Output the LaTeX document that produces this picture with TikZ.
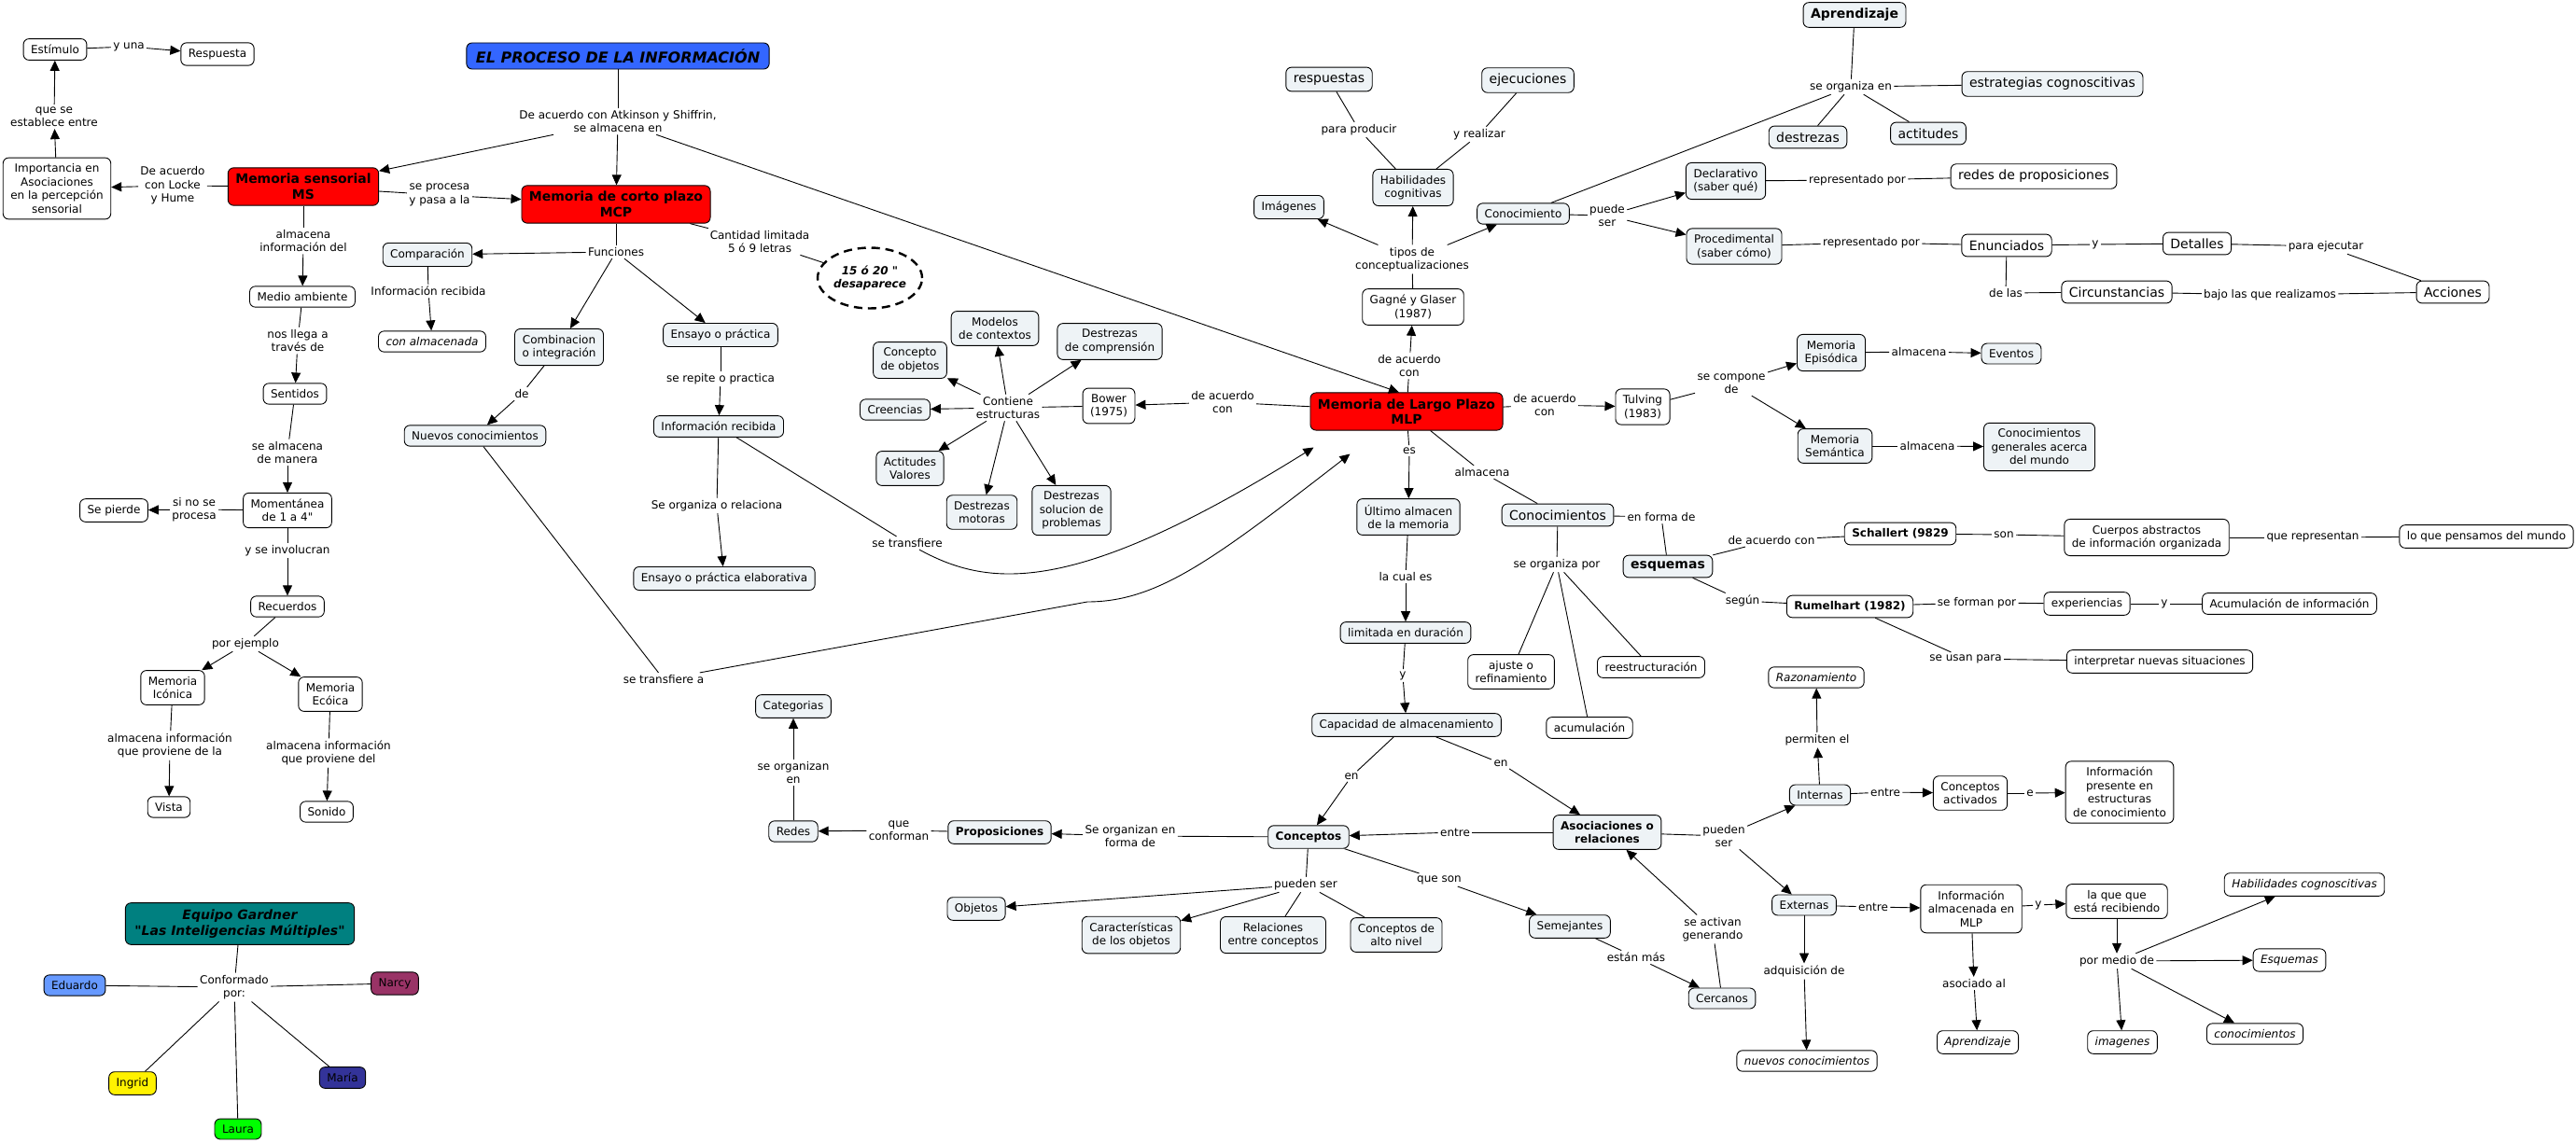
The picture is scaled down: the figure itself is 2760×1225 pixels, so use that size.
\documentclass[tikz,border=0pt]{standalone}
\usepackage{fontspec}
\setmainfont{DejaVu Sans}[Ligatures=TeXOff]
\usetikzlibrary{arrows.meta,shapes.geometric}
\definecolor{pale}{RGB}{238,243,246}
\definecolor{titleblue}{RGB}{51,102,255}
\definecolor{tealbox}{RGB}{0,128,128}
\definecolor{edu}{RGB}{102,153,255}
\definecolor{narcyc}{RGB}{153,51,102}
\definecolor{mariac}{RGB}{51,51,153}
\begin{document}
\begin{tikzpicture}[x=1pt,y=-1pt,line width=0.9pt,
        con/.style={draw,rounded corners=6pt,fill=white,align=center,inner xsep=8pt,inner ysep=6.5pt,font=\fontsize{12}{14.5}\selectfont},
        pc/.style={con,fill=pale},
        big/.style={font=\fontsize{14}{16.5}\selectfont},
        bb/.style={font=\fontsize{14}{16.5}\selectfont\bfseries},
        bd/.style={font=\fontsize{12}{14.5}\selectfont\bfseries},
        it/.style={font=\fontsize{12}{14.5}\selectfont\itshape},
        lab/.style={align=center,inner sep=2pt,font=\fontsize{12}{14.5}\selectfont},
        arr/.style={-{Triangle[length=11pt,width=10pt]}}]
                \fill[white] (0,0) rectangle (2760,1225);
                \useasboundingbox (0,0) rectangle (2760,1225);
                \node[con] (estimulo) at (59,53) {Estímulo};
                \node[con] (respuesta) at (233,58) {Respuesta};
                \node[con] (importancia) at (61,202) {Importancia en\\Asociaciones\\en la percepción\\sensorial};
                \node[con,fill=red,bb] (ms) at (325,200) {Memoria sensorial\\MS};
                \node[con,fill=titleblue,font=\fontsize{16}{19}\selectfont\bfseries\itshape,inner xsep=10pt] (titulo) at (662,60) {EL PROCESO DE LA INFORMACIÓN};
                \node[con,fill=red,bb] (mcp) at (660,219) {Memoria de corto plazo\\MCP};
                \node[pc] (compar) at (458,273) {Comparación};
                \node[con,it] (conalm) at (463,366) {con almacenada};
                \node[pc] (combin) at (599,372) {Combinacion\\o integración};
                \node[pc] (nuevos) at (509,467) {Nuevos conocimientos};
                \node[con] (medio) at (324,318) {Medio ambiente};
                \node[con] (sentidos) at (316,422) {Sentidos};
                \node[con] (moment) at (308,547) {Momentánea\\de 1 a 4"};
                \node[con] (pierde) at (122,547) {Se pierde};
                \node[con] (recuerdos) at (308,650) {Recuerdos};
                \node[con] (iconica) at (185,737) {Memoria\\Icónica};
                \node[con] (ecoica) at (354,744) {Memoria\\Ecóica};
                \node[con] (vista) at (181,865) {Vista};
                \node[con] (sonido) at (350,870) {Sonido};
                \node[con,fill=tealbox,font=\fontsize{14}{17}\selectfont\bfseries\itshape,inner xsep=10pt,inner ysep=7pt] (gardner) at (257,990) {Equipo Gardner\\"Las Inteligencias Múltiples"};
                \node[con,fill=edu] (eduardo) at (80,1056) {Eduardo};
                \node[con,fill=narcyc] (narcy) at (423,1054) {Narcy};
                \node[con,fill=yellow] (ingrid) at (142,1161) {Ingrid};
                \node[con,fill=mariac] (maria) at (367,1155) {María};
                \node[con,fill=green] (laura) at (255,1210) {Laura};
                \node[draw,ellipse,dash pattern=on 9pt off 6pt,line width=2.4pt,minimum width=112pt,minimum height=65pt,inner sep=0pt,align=center,font=\fontsize{12}{14.5}\selectfont\bfseries\itshape] (elipse) at (932,298) {15 ó 20 "\\desaparece};
                \node[pc] (ensayo) at (772,359) {Ensayo o práctica};
                \node[pc] (inforec) at (770,457) {Información recibida};
                \node[pc] (elabor) at (776,620) {Ensayo o práctica elaborativa};
                \node[pc] (modelos) at (1066,352) {Modelos\\de contextos};
                \node[pc] (destcomp) at (1189,366) {Destrezas\\de comprensión};
                \node[pc] (concobj) at (975,386) {Concepto\\de objetos};
                \node[pc] (creencias) at (959,439) {Creencias};
                \node[pc] (actval) at (975,502) {Actitudes\\Valores};
                \node[pc] (destmot) at (1052,549) {Destrezas\\motoras};
                \node[pc] (destsol) at (1148,547) {Destrezas\\solucion de\\problemas};
                \node[con] (bower) at (1188,435) {Bower\\(1975)};
                \node[pc] (categorias) at (850,757) {Categorias};
                \node[pc] (redes) at (850,891) {Redes};
                \node[pc,bd] (propos) at (1071,892) {Proposiciones};
                \node[pc,bd] (conceptos) at (1402,897) {Conceptos};
                \node[pc] (objetos) at (1046,974) {Objetos};
                \node[pc] (caract) at (1212,1002) {Características\\de los objetos};
                \node[pc] (relac) at (1364,1002) {Relaciones\\entre conceptos};
                \node[pc] (altonivel) at (1496,1002) {Conceptos de\\alto nivel};
                \node[pc,bb] (aprend) at (1987,16) {Aprendizaje};
                \node[pc,big] (respuestas) at (1424,85) {respuestas};
                \node[pc,big] (ejecuc) at (1637,86) {ejecuciones};
                \node[pc] (habil) at (1514,201) {Habilidades\\cognitivas};
                \node[pc] (imagenes) at (1381,222) {Imágenes};
                \node[con] (gagne) at (1514,329) {Gagné y Glaser\\(1987)};
                \node[con,fill=red,bb] (mlp) at (1507,441) {Memoria de Largo Plazo\\MLP};
                \node[pc] (conocim) at (1632,229) {Conocimiento};
                \node[pc] (declar) at (1849,194) {Declarativo\\(saber qué)};
                \node[pc] (proced) at (1858,264) {Procedimental\\(saber cómo)};
                \node[pc,big] (destrezas) at (1937,147) {destrezas};
                \node[pc,big] (actitudes) at (2066,143) {actitudes};
                \node[pc,big] (estrat) at (2199,90) {estrategias cognoscitivas};
                \node[con,big] (redesprop) at (2179,189) {redes de proposiciones};
                \node[con,big] (enunc) at (2150,263) {Enunciados};
                \node[con,big] (detalles) at (2354,261) {Detalles};
                \node[con,big] (circuns) at (2268,313) {Circunstancias};
                \node[con,big] (acciones) at (2628,313) {Acciones};
                \node[con] (tulving) at (1760,436) {Tulving\\(1983)};
                \node[pc] (episod) at (1962,378) {Memoria\\Episódica};
                \node[pc] (semant) at (1966,478) {Memoria\\Semántica};
                \node[pc] (eventos) at (2155,379) {Eventos};
                \node[pc] (congen) at (2185,479) {Conocimientos\\generales acerca\\del mundo};
                \node[pc] (ultimo) at (1509,554) {Último almacen\\de la memoria};
                \node[pc,big] (conocims) at (1669,552) {Conocimientos};
                \node[pc,bb] (esquemas) at (1787,607) {esquemas};
                \node[con,bd] (schallert) at (2036,572) {Schallert (9829};
                \node[con] (cuerpos) at (2300,576) {Cuerpos abstractos\\de información organizada};
                \node[con] (pensamos) at (2664,575) {lo que pensamos del mundo};
                \node[pc] (limitada) at (1506,678) {limitada en duración};
                \node[pc] (capacidad) at (1507,777) {Capacidad de almacenamiento};
                \node[con] (ajuste) at (1619,720) {ajuste o\\refinamiento};
                \node[con] (reestr) at (1769,715) {reestructuración};
                \node[con] (acumul) at (1703,780) {acumulación};
                \node[con,bd] (rumel) at (1982,650) {Rumelhart (1982)};
                \node[con] (experien) at (2236,647) {experiencias};
                \node[con] (acuminf) at (2453,647) {Acumulación de información};
                \node[con] (interpret) at (2314,709) {interpretar nuevas situaciones};
                \node[pc,bd] (asoc) at (1722,892) {Asociaciones o\\relaciones};
                \node[pc] (semej) at (1682,993) {Semejantes};
                \node[pc] (cercanos) at (1845,1070) {Cercanos};
                \node[pc] (internas) at (1950,852) {Internas};
                \node[con,it] (razon) at (1946,726) {Razonamiento};
                \node[con] (concact) at (2111,850) {Conceptos\\activados};
                \node[con] (infopres) at (2271,849) {Información\\presente en\\estructuras\\de conocimiento};
                \node[pc] (externas) at (1933,970) {Externas};
                \node[con] (infoalm) at (2112,974) {Información\\almacenada en\\MLP};
                \node[con] (querecib) at (2268,966) {la que que\\está recibiendo};
                \node[con,it] (habcog) at (2469,948) {Habilidades cognoscitivas};
                \node[con,it] (esqit) at (2453,1029) {Esquemas};
                \node[con,it] (conocit) at (2416,1108) {conocimientos};
                \node[con,it] (imagit) at (2274,1117) {imagenes};
                \node[con,it] (aprendit) at (2119,1117) {Aprendizaje};
                \node[con,it] (nuevosit) at (1936,1137) {nuevos conocimientos};
                \node[lab] (yuna) at (138,50) {y una};
                \node[lab] (qse) at (58,125) {que se\\establece entre};
                \node[lab] (locke) at (185,199) {De acuerdo\\con Locke\\y Hume};
                \node[lab] (atk) at (662,130) {De acuerdo con Atkinson y Shiffrin,\\se almacena en};
                \node[lab] (procesa) at (471,209) {se procesa\\y pasa a la};
                \node[lab] (almdel) at (325,258) {almacena\\información del};
                \node[lab] (llega) at (319,365) {nos llega a\\través de};
                \node[lab] (almman) at (308,485) {se almacena\\de manera};
                \node[lab] (sino) at (208,546) {si no se\\procesa};
                \node[lab] (invol) at (308,590) {y se involucran};
                \node[lab] (ejemplo) at (263,690) {por ejemplo};
                \node[lab] (alm1) at (182,799) {almacena información\\que proviene de la};
                \node[lab] (alm2) at (352,807) {almacena información\\que proviene del};
                \node[lab] (conf) at (251,1058) {Conformado\\por:};
                \node[lab] (func) at (660,270) {Funciones};
                \node[lab] (cant) at (814,259) {Cantidad limitada\\5 ó 9 letras};
                \node[lab] (inforl) at (459,312) {Información recibida};
                \node[lab] (dede) at (559,422) {de};
                \node[lab] (transa) at (711,728) {se transfiere a};
                \node[lab] (repite) at (772,406) {se repite o practica};
                \node[lab] (organiza) at (768,542) {Se organiza o relaciona};
                \node[lab] (transf) at (972,582) {se transfiere};
                \node[lab] (bowerl) at (1310,431) {de acuerdo\\con};
                \node[lab] (contiene) at (1080,437) {Contiene\\estructuras};
                \node[lab] (gagnel) at (1510,392) {de acuerdo\\con};
                \node[lab] (tipos) at (1513,278) {tipos de\\conceptualizaciones};
                \node[lab] (produc) at (1456,139) {para producir};
                \node[lab] (realiz) at (1585,144) {y realizar};
                \node[lab] (organizaen) at (1983,93) {se organiza en};
                \node[lab] (puede) at (1722,231) {puede\\ser};
                \node[lab] (rep1) at (1990,193) {representado por};
                \node[lab] (rep2) at (2005,260) {representado por};
                \node[lab] (yenun) at (2245,262) {y};
                \node[lab] (ejec) at (2492,264) {para ejecutar};
                \node[lab] (delas) at (2149,314) {de las};
                \node[lab] (bajo) at (2432,316) {bajo las que realizamos};
                \node[lab] (tulvl) at (1655,434) {de acuerdo\\con};
                \node[lab] (compone) at (1855,411) {se compone\\de};
                \node[lab] (almep) at (2056,377) {almacena};
                \node[lab] (almsem) at (2065,478) {almacena};
                \node[lab] (esl) at (1510,483) {es};
                \node[lab] (cuales) at (1506,618) {la cual es};
                \node[lab] (yl) at (1503,724) {y};
                \node[lab] (en1) at (1448,832) {en};
                \node[lab] (en2) at (1608,818) {en};
                \node[lab] (almac) at (1588,506) {almacena};
                \node[lab] (orgpor) at (1668,605) {se organiza por};
                \node[lab] (enforma) at (1780,554) {en forma de};
                \node[lab] (acuerdo) at (1898,579) {de acuerdo con};
                \node[lab] (son) at (2147,573) {son};
                \node[lab] (represent) at (2478,576) {que representan};
                \node[lab] (segun) at (1867,644) {según};
                \node[lab] (forman) at (2118,646) {se forman por};
                \node[lab] (yexp) at (2319,647) {y};
                \node[lab] (usan) at (2106,706) {se usan para};
                \node[lab] (entre1) at (1559,892) {entre};
                \node[lab] (sefor) at (1211,896) {Se organizan en\\forma de};
                \node[lab] (confor) at (963,890) {que\\conforman};
                \node[lab] (seorgen) at (850,828) {se organizan\\en};
                \node[lab] (pueden1) at (1399,948) {pueden ser};
                \node[lab] (queson) at (1542,943) {que son};
                \node[lab] (estan) at (1753,1026) {están más};
                \node[lab] (activan) at (1835,996) {se activan\\generando};
                \node[lab] (pueden2) at (1847,896) {pueden\\ser};
                \node[lab] (permiten) at (1947,793) {permiten el};
                \node[lab] (entre2) at (2020,849) {entre};
                \node[lab] (elab) at (2175,850) {e};
                \node[lab] (entre3) at (2007,972) {entre};
                \node[lab] (yinfo) at (2184,970) {y};
                \node[lab] (asociado) at (2115,1054) {asociado al};
                \node[lab] (medio2) at (2268,1030) {por medio de};
                \node[lab] (adquis) at (1933,1041) {adquisición de};
                \foreach \a/\b in {estimulo/yuna, ms/locke, titulo/atk, ms/procesa, ms/almdel, medio/llega, sentidos/almman,
                        moment/sino, moment/invol, recuerdos/ejemplo, iconica/alm1, ecoica/alm2, gardner/conf, conf/eduardo,
                        conf/narcy, conf/ingrid, conf/maria, conf/laura, mcp/func, mcp/cant, cant/elipse, compar/inforl,
                        combin/dede, nuevos/transa, ensayo/repite, inforec/organiza, inforec/transf, mlp/bowerl, bower/contiene,
                        mlp/gagnel, gagne/tipos, habil/produc, produc/respuestas, habil/realiz, realiz/ejecuc, aprend/organizaen,
                        organizaen/conocim, organizaen/destrezas, organizaen/actitudes, organizaen/estrat, conocim/puede,
                        declar/rep1, rep1/redesprop, proced/rep2, rep2/enunc, enunc/yenun, yenun/detalles, detalles/ejec,
                        ejec/acciones, enunc/delas, delas/circuns, circuns/bajo, bajo/acciones, mlp/tulvl, tulving/compone,
                        episod/almep, semant/almsem, mlp/esl, ultimo/cuales, limitada/yl, capacidad/en1, capacidad/en2,
                        mlp/almac, almac/conocims, conocims/orgpor, orgpor/ajuste, orgpor/acumul, orgpor/reestr,
                        conocims/enforma, enforma/esquemas, esquemas/acuerdo, acuerdo/schallert, schallert/son, son/cuerpos,
                        cuerpos/represent, represent/pensamos, esquemas/segun, segun/rumel, rumel/forman, forman/experien,
                        experien/yexp, yexp/acuminf, rumel/usan, usan/interpret, asoc/entre1, conceptos/sefor, propos/confor,
                        redes/seorgen, conceptos/pueden1, pueden1/relac, pueden1/altonivel, conceptos/queson, semej/estan,
                        cercanos/activan, asoc/pueden2, internas/entre2, concact/elab, externas/entre3, infoalm/yinfo}
                    \draw (\a) -- (\b);
                \foreach \a/\b in {yuna/respuesta, importancia/qse, qse/estimulo, locke/importancia, atk/ms, atk/mcp,
                        procesa/mcp, almdel/medio, llega/sentidos, almman/moment, sino/pierde, invol/recuerdos,
                        ejemplo/iconica, ejemplo/ecoica, alm1/vista, alm2/sonido, func/compar, func/combin, func/ensayo,
                        inforl/conalm, dede/nuevos, repite/inforec, organiza/elabor, bowerl/bower, contiene/modelos,
                        contiene/destcomp, contiene/concobj, contiene/creencias, contiene/actval, contiene/destmot,
                        contiene/destsol, gagnel/gagne, tipos/imagenes, tipos/habil, tipos/conocim, puede/declar,
                        puede/proced, tulvl/tulving, compone/episod, compone/semant, almep/eventos, almsem/congen,
                        esl/ultimo, cuales/limitada, yl/capacidad, en1/conceptos, en2/asoc, entre1/conceptos, sefor/propos,
                        confor/redes, seorgen/categorias, pueden1/objetos, pueden1/caract, queson/semej, estan/cercanos,
                        activan/asoc, pueden2/internas, pueden2/externas, internas/permiten, permiten/razon, entre2/concact,
                        elab/infopres, externas/adquis, adquis/nuevosit, entre3/infoalm, yinfo/querecib, infoalm/asociado,
                        asociado/aprendit, querecib/medio2, medio2/habcog, medio2/esqit, medio2/conocit, medio2/imagit}
                    \draw[arr] (\a) -- (\b);
                \coordinate (mlptop) at ([xshift=-8pt]mlp.north);
                \coordinate (t1) at ([xshift=4pt,yshift=-18pt]mlp.south west);
                \coordinate (t2) at ([xshift=43pt,yshift=-25pt]mlp.south west);
                \coordinate (kink) at (1165,645);
                \draw[arr] (atk) -- (mlptop);
                \draw[arr] (transf) .. controls (1060,630) and (1150,640) .. (t1);
                \draw[arr] (transa) -- (kink) .. controls (1240,645) and (1300,600) .. (t2);
            \end{tikzpicture}
\end{document}
